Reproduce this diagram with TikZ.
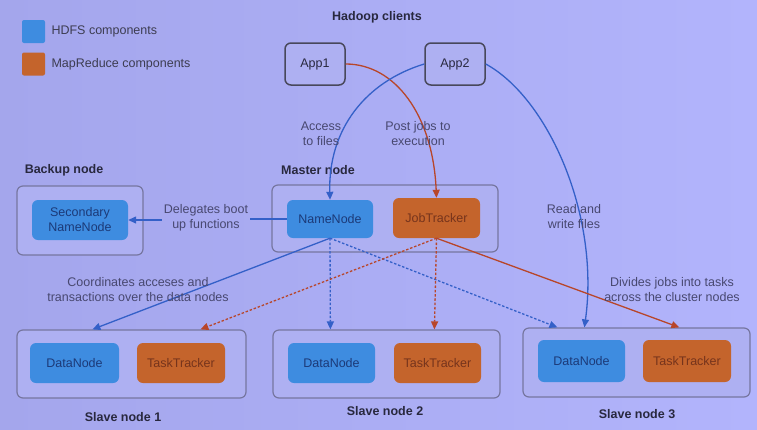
\documentclass[tikz,border=0pt]{standalone}
\usepackage{fontspec}
\setmainfont{Liberation Sans}
\usetikzlibrary{arrows.meta,calc}
\definecolor{bgL}{RGB}{164,166,236}
\definecolor{bgR}{RGB}{178,180,252}
\definecolor{boxfill}{RGB}{174,176,242}
\definecolor{boxline}{RGB}{118,118,160}
\definecolor{hblue}{RGB}{62,140,224}
\definecolor{hbluetxt}{RGB}{28,58,120}
\definecolor{morange}{RGB}{196,100,44}
\definecolor{morangetxt}{RGB}{118,52,28}
\definecolor{lblue}{RGB}{52,96,200}
\definecolor{lred}{RGB}{184,70,42}
\definecolor{txt}{RGB}{72,72,112}
\definecolor{hdr}{RGB}{40,40,62}
\tikzset{
  every node/.style={font=\fontsize{12.5}{15}\selectfont},
  groupbox/.style={draw=boxline, line width=1.2pt, fill=boxfill, rounded corners=6pt, inner sep=0pt},
  hdfsbox/.style={fill=hblue, text=hbluetxt, rounded corners=6pt, inner sep=0pt, align=center},
  mrbox/.style={fill=morange, text=morangetxt, rounded corners=6pt, inner sep=0pt, align=center},
  appbox/.style={draw=hdr!85, line width=1.5pt, fill=boxfill, rounded corners=6pt, inner sep=0pt, minimum width=60pt, minimum height=42pt, text=hdr},
  hdrlabel/.style={font=\fontsize{12.5}{15}\selectfont\bfseries, text=hdr},
  note/.style={text=txt, align=center},
  blink/.style={draw=lblue, line width=1.3pt, -{Triangle[length=8pt,width=7pt]}},
  rlink/.style={draw=lred, line width=1.3pt, -{Triangle[length=8pt,width=7pt]}},
  dotted link/.style={dash pattern=on 2.5pt off 1.8pt},
}
\begin{document}
\begin{tikzpicture}[x=1pt,y=-1pt]
\useasboundingbox (0,0) rectangle (757,429);
\shade[left color=bgL, right color=bgR] (0,0) rectangle (757,429);

% legend
\node[fill=hblue, rounded corners=2pt, minimum width=23pt, minimum height=23pt, inner sep=0pt] (lgb) at (33.5,31.5) {};
\node[anchor=west, text=hdr!90] (lgbt) at (48,31.5) {HDFS components};
\node[fill=morange, rounded corners=2pt, minimum width=23pt, minimum height=23pt, inner sep=0pt] (lgo) at (33.5,64) {};
\node[anchor=west, text=hdr!90] (lgot) at (48,64) {MapReduce components};

% headers
\node[hdrlabel] (hc) at (377,17) {Hadoop clients};
\node[hdrlabel] (hb) at (64,170) {Backup node};
\node[hdrlabel] (hm) at (318,170) {Master node};
\node[hdrlabel] (h1) at (123,417) {Slave node 1};
\node[hdrlabel] (h2) at (385,411) {Slave node 2};
\node[hdrlabel] (h3) at (637,414) {Slave node 3};

% apps
\node[appbox] (app1) at (315,64) {App1};
\node[appbox] (app2) at (455,64) {App2};

% group boxes
\node[groupbox, minimum width=126pt, minimum height=69pt] (backup) at (80,220.5) {};
\node[groupbox, minimum width=226pt, minimum height=67pt] (master) at (385,218.5) {};
\node[groupbox, minimum width=229pt, minimum height=68pt] (s1) at (131.5,364) {};
\node[groupbox, minimum width=227pt, minimum height=68pt] (s2) at (386.5,364) {};
\node[groupbox, minimum width=227pt, minimum height=69pt] (s3) at (636.5,362.5) {};

% components
\node[hdfsbox, minimum width=96pt, minimum height=40pt] (sec) at (80,220) {Secondary\\NameNode};
\node[hdfsbox, minimum width=86pt, minimum height=38pt] (nn) at (330,219) {NameNode};
\node[mrbox, minimum width=87pt, minimum height=40pt] (jt) at (436.5,218) {JobTracker};
\node[hdfsbox, minimum width=89pt, minimum height=40pt] (dn1) at (74.5,363) {DataNode};
\node[mrbox, minimum width=88pt, minimum height=40pt] (tt1) at (181,363) {TaskTracker};
\node[hdfsbox, minimum width=87pt, minimum height=40pt] (dn2) at (331.5,363) {DataNode};
\node[mrbox, minimum width=87pt, minimum height=40pt] (tt2) at (437.5,363) {TaskTracker};
\node[hdfsbox, minimum width=87pt, minimum height=42pt] (dn3) at (581.5,361) {DataNode};
\node[mrbox, minimum width=88pt, minimum height=42pt] (tt3) at (687,361) {TaskTracker};

% client connectors
\draw[rlink] (app1.east) .. controls (395,64) and (433,115) .. (jt.north);
\draw[blink] (app2.west) .. controls (365,82) and (328,130) .. (nn.north);
\draw[blink] (app2.east) .. controls (548,98) and (600,215) .. ([xshift=62pt]s3.north west);

% labels on client connectors
\node[note] (lacc) at (321,134) {Access\\to files};
\node[note] (lpost) at (418,134) {Post jobs to\\execution};
\node[note] (lrw) at (574,217) {Read and\\write files};

% delegates
\node[note, inner sep=2pt] (ldel) at (206,218) {Delegates boot\\up functions};
\draw[draw=lblue, line width=1.3pt] (nn.west) -- (nn.west -| ldel.east);
\draw[blink] (sec.east -| ldel.west) -- (sec.east);

% NameNode to slaves
\draw[blink] (nn.south) -- ([xshift=76pt]s1.north west);
\draw[blink, dotted link] (nn.south) -- ([xshift=58pt]s2.north west);
\draw[blink, dotted link] (nn.south) -- ([xshift=35pt]s3.north west);

% JobTracker to slaves
\draw[rlink, dotted link] (jt.south) -- ([xshift=184pt]s1.north west);
\draw[rlink, dotted link] (jt.south) -- ([xshift=162pt]s2.north west);
\draw[rlink] (jt.south) -- ([xshift=157pt]s3.north west);

\node[note] (lcoord) at (138,290) {Coordinates acceses and\\transactions over the data nodes};
\node[note] (ldiv) at (672,290) {Divides jobs into tasks\\across the cluster nodes};
\end{tikzpicture}
\end{document}
